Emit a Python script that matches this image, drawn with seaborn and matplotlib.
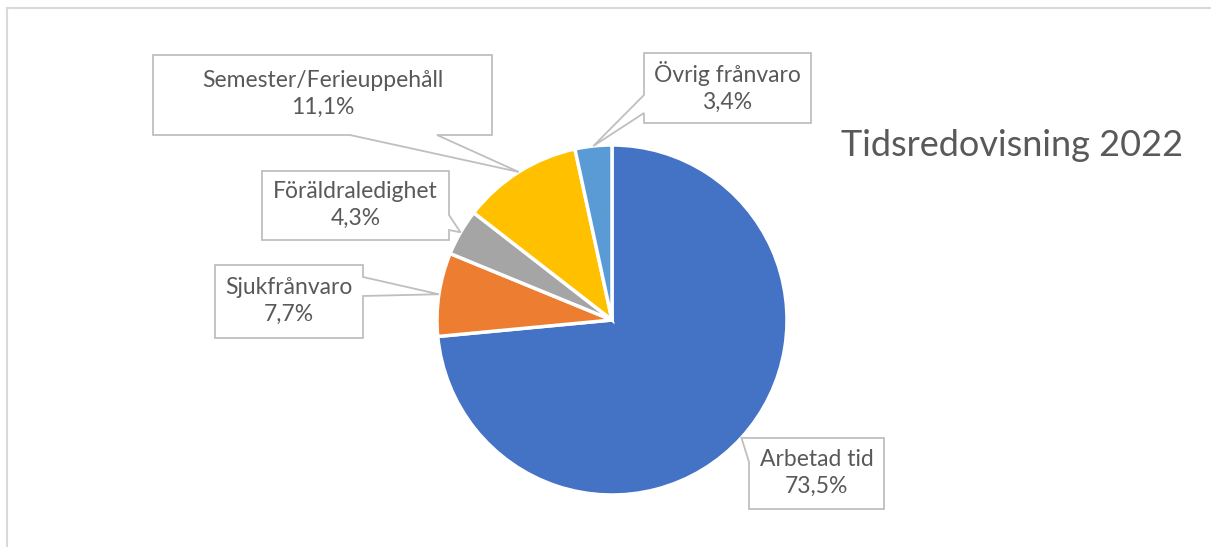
import matplotlib
matplotlib.use('Agg')
import matplotlib.pyplot as plt
import seaborn as sns
import numpy as np
from matplotlib.patches import Polygon
from matplotlib.lines import Line2D

# DATA
categories = ['Arbetad tid', 'Sjukfrånvaro', 'Föräldraledighet',
              'Semester/Ferieuppehåll', 'Övrig frånvaro']
shares = [73.5, 7.7, 4.3, 11.1, 3.4]
pct_labels = ['73,5%', '7,7%', '4,3%', '11,1%', '3,4%']
slice_colors = ['#4472C4', '#ED7D31', '#A5A5A5', '#FFC000', '#5B9BD5']
title = 'Tidsredovisning 2022'

# LAYOUT (pixels, y measured from the top)
W, H = 1211, 547
CX, CY, R = 612, 320, 175
# box (x0, y0, x1, y1), side of the pointer, pointer base along that side
boxes = {
    'Arbetad tid': ((749, 438, 884, 509), 'left', (438, 462)),
    'Sjukfrånvaro': ((215, 265, 363, 338), 'right', (277, 296)),
    'Föräldraledighet': ((262, 171, 449, 240), 'right', (215, 230)),
    'Semester/Ferieuppehåll': ((153, 55, 492, 135), 'bottom', (350, 437)),
    'Övrig frånvaro': ((644, 53, 811, 123), 'left', (95, 113)),
}

TEXT = '#595959'
EDGE = '#BFBFBF'

sns.set_style('white')
plt.rcParams['font.family'] = ['Lato', 'DejaVu Sans']


def callout(box, side, base, tip):
    """Polygon of a label box with a pointer to tip (pixel coords)."""
    x0, y0, x1, y1 = box
    b0, b1 = base
    pts = [(x0, y0)]
    if side == 'top':
        pts += [(b0, y0), tip, (b1, y0)]
    pts += [(x1, y0)]
    if side == 'right':
        pts += [(x1, b0), tip, (x1, b1)]
    pts += [(x1, y1)]
    if side == 'bottom':
        pts += [(b1, y1), tip, (b0, y1)]
    pts += [(x0, y1)]
    if side == 'left':
        pts += [(x0, b1), tip, (x0, b0)]
    return [(x, H - y) for x, y in pts]


fig = plt.figure(figsize=(W / 100, H / 100), dpi=100)
ax = fig.add_axes([0, 0, 1, 1])

ax.pie(shares, colors=slice_colors, startangle=90, counterclock=False,
       center=(CX, H - CY), radius=R,
       wedgeprops=dict(edgecolor='white', linewidth=2.5))

ax.set_xlim(0, W)
ax.set_ylim(0, H)
ax.set_aspect('auto')
ax.axis('off')

# labels with pointers to the middle of each slice
total = sum(shares)
cum = 0.0
for name, v, pct in zip(categories, shares, pct_labels):
    mid = np.deg2rad(90 - 360 * (cum + v / 2) / total)
    cum += v
    tip = (CX + R * np.cos(mid), CY - R * np.sin(mid))
    box, side, base = boxes[name]
    poly = Polygon(callout(box, side, base, tip), closed=True,
                   facecolor='white', edgecolor=EDGE, linewidth=1.3, zorder=3)
    ax.add_patch(poly)
    tx = (box[0] + box[2]) / 2
    ty = (box[1] + box[3]) / 2
    ax.text(tx, H - ty + 1, f'{name}\n{pct}', ha='center', va='center',
            fontsize=16.5, color=TEXT, linespacing=1.35, zorder=4)

ax.text(1012, H - 145, title, ha='center', va='center',
        fontsize=26, color=TEXT)

# chart frame (top and left edges visible)
fig.add_artist(Line2D([7 / W, 1], [1 - 8 / H, 1 - 8 / H],
                      transform=fig.transFigure, color='#D9D9D9', lw=1.5))
fig.add_artist(Line2D([7 / W, 7 / W], [0, 1 - 8 / H],
                      transform=fig.transFigure, color='#D9D9D9', lw=1.5))

fig.savefig('out.png', dpi=100, facecolor='white')
